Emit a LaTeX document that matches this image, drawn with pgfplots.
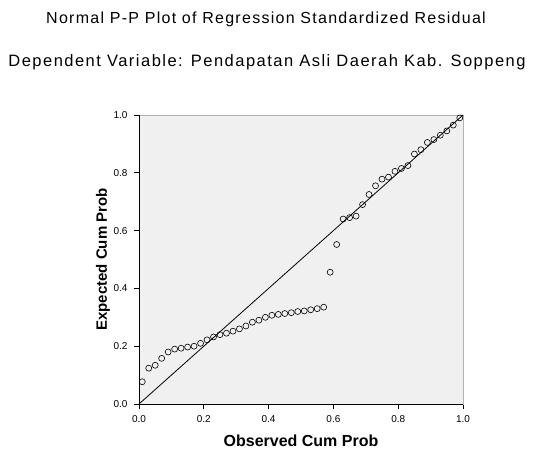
\documentclass[border=0pt]{standalone}
\usepackage{pgfplots}
\pgfplotsset{compat=1.18}
\usepackage{fontspec}
\setmainfont{Liberation Sans}
\definecolor{bg}{HTML}{F0F0F0}
\begin{document}
\begin{tikzpicture}
\path[use as bounding box] (0,0) rectangle (534pt,450pt);
\node[font=\fontsize{16}{18}\selectfont\addfontfeatures{LetterSpace=8}] at (266pt,431pt) {Normal P-P Plot of Regression Standardized Residual};
\node[font=\fontsize{16.5}{18}\selectfont\addfontfeatures{LetterSpace=9}] at (267pt,388pt) {Dependent Variable: Pendapatan Asli Daerah Kab. Soppeng};
\begin{axis}[
  at={(139pt,46pt)}, anchor=south west,
  scale only axis, width=324pt, height=289pt,
  xmin=0, xmax=1, ymin=0, ymax=1,
  xtick={0,0.2,0.4,0.6,0.8,1}, ytick={0,0.2,0.4,0.6,0.8,1},
  xticklabel style={yshift=-3pt,/pgf/number format/.cd,fixed,fixed zerofill,precision=1},
  yticklabel style={xshift=-3pt,/pgf/number format/.cd,fixed,fixed zerofill,precision=1},
  /pgf/number format/assume math mode=true,
  tick label style={font=\fontsize{10}{11}\selectfont},
  tick align=outside, xtick pos=left, ytick pos=left,
  major tick length=5pt,
  tick style={black, line width=0.8pt},
  axis background/.style={fill=bg},
  axis line style={gray!60, line width=0.8pt},
  every axis x label/.style={at={(axis description cs:0.5,0)}, yshift=-37pt, anchor=center, font=\bfseries\fontsize{16}{18}\selectfont},
  every axis y label/.style={at={(axis description cs:0,0.5)}, xshift=-36pt, rotate=90, anchor=center, font=\bfseries\fontsize{15}{17}\selectfont},
  xlabel={Observed Cum Prob},
  ylabel={Expected Cum Prob},
  clip=false,
]
\draw[black, line width=0.9pt] (rel axis cs:0,1) -- (rel axis cs:0,0) -- (rel axis cs:1,0);
\addplot[black, line width=0.8pt, no marks] coordinates {(0,0) (1,1)};
\addplot[only marks, mark=o, mark size=3pt, mark options={black, line width=0.6pt}] coordinates {
(0.01,0.077) (0.03,0.124) (0.05,0.134) (0.07,0.158) (0.09,0.180)
(0.11,0.190) (0.13,0.193) (0.15,0.197) (0.17,0.200) (0.19,0.210)
(0.21,0.222) (0.23,0.232) (0.25,0.240) (0.27,0.245) (0.29,0.252)
(0.31,0.260) (0.33,0.270) (0.35,0.283) (0.37,0.290) (0.39,0.300)
(0.41,0.307) (0.43,0.310) (0.45,0.313) (0.47,0.316) (0.49,0.320)
(0.51,0.322) (0.53,0.326) (0.55,0.330) (0.57,0.335) (0.59,0.456)
(0.61,0.552) (0.63,0.640) (0.65,0.645) (0.67,0.650) (0.69,0.690)
(0.71,0.725) (0.73,0.755) (0.75,0.778) (0.77,0.785) (0.79,0.805)
(0.81,0.815) (0.83,0.825) (0.85,0.865) (0.87,0.880) (0.89,0.905)
(0.91,0.915) (0.93,0.930) (0.95,0.945) (0.97,0.965) (0.99,0.990)
};
\end{axis}
\end{tikzpicture}
\end{document}
